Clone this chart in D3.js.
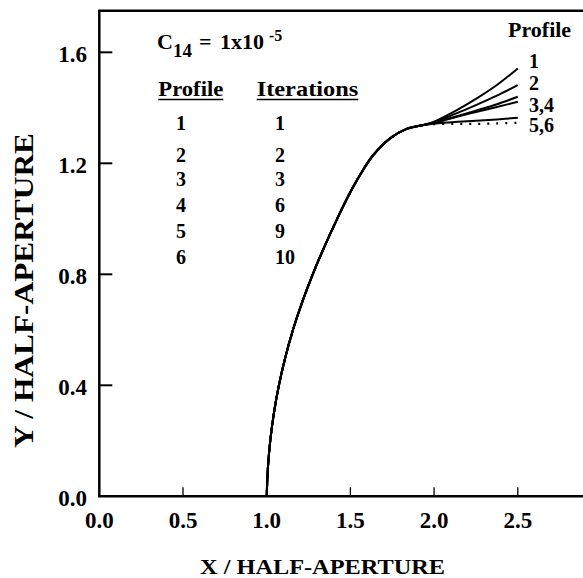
<!DOCTYPE html>
<html lang="en">
  <head>
    <meta charset="UTF-8" />
    <title>Half-aperture profiles</title>
    <style>
      body { margin: 0; background: #fff; }
      svg { display: block; }
      text { font-family: "Liberation Serif", "DejaVu Serif", serif; font-weight: bold; fill: #000; }
    </style>
  </head>
  <body>
    <div class="chart"></div>
    <script src="https://d3js.org/d3.v7.min.js"></script>
    <script>

    // shared part of every profile (X, Y)
    var baseX = [1.000, 1.007, 1.021, 1.043, 1.073, 1.111, 1.157, 1.212, 1.275, 1.345, 1.421, 1.503, 1.583, 1.637, 1.737, 1.836, 1.936];
    var baseY = [0.000, 0.100, 0.200, 0.300, 0.400, 0.500, 0.600, 0.700, 0.800, 0.900, 1.000, 1.100, 1.183, 1.230, 1.290, 1.324, 1.338];

    // where the profiles split apart
    var branchX = [2.0, 2.125, 2.25, 2.375, 2.5];
    var profile1 = [1.350, 1.388, 1.432, 1.482, 1.542];
    var profile2 = [1.348, 1.378, 1.410, 1.444, 1.482];
    var profile3 = [1.346, 1.368, 1.390, 1.413, 1.440];
    var profile4 = [1.345, 1.366, 1.385, 1.403, 1.422];
    var profile5 = [1.343, 1.349, 1.353, 1.358, 1.364];
    var profile6 = [1.341, 1.342, 1.342, 1.344, 1.346];
    var branchY = [profile1, profile2, profile3, profile4, profile5, profile6];

    var profiles = ["1", "2", "3", "4", "5", "6"];
    var iterations = ["1", "2", "3", "6", "9", "10"];
    var endLabels = ["1", "2", "3,4", "5,6"];

    var xTicks = [0.5, 1.0, 1.5, 2.0, 2.5];
    var xLabels = [0.0, 0.5, 1.0, 1.5, 2.0, 2.5];
    var yTicks = [0.4, 0.8, 1.2, 1.6];
    var yLabels = [0.0, 0.4, 0.8, 1.2, 1.6];

    var w = 583, h = 578;
    var svg = d3.select(".chart").append("svg")
        .attr("width", w)
        .attr("height", h);

    var x = d3.scaleLinear().domain([0, 3]).range([99.3, 601.5]);
    var y = d3.scaleLinear().domain([0, 1.75]).range([496.3, 10.7]);

    // frame: left axis, bottom axis, top border
    svg.append("line").attr("x1", x(0)).attr("x2", x(0)).attr("y1", y(1.75)).attr("y2", y(0))
       .attr("stroke", "#000").attr("stroke-width", 2.5);
    svg.append("line").attr("x1", x(0) - 1.2).attr("x2", w).attr("y1", y(0)).attr("y2", y(0))
       .attr("stroke", "#000").attr("stroke-width", 2.5);
    svg.append("line").attr("x1", x(0) - 1.2).attr("x2", w).attr("y1", y(1.75)).attr("y2", y(1.75))
       .attr("stroke", "#000").attr("stroke-width", 2.5);

    // x ticks point up, y ticks point right
    svg.selectAll(".xtick").data(xTicks).enter().append("line")
       .attr("x1", function(d) { return x(d); })
       .attr("x2", function(d) { return x(d); })
       .attr("y1", y(0)).attr("y2", y(0) - 9)
       .attr("stroke", "#000").attr("stroke-width", 1.3);
    svg.selectAll(".ytick").data(yTicks).enter().append("line")
       .attr("x1", x(0)).attr("x2", x(0) + 13)
       .attr("y1", function(d) { return y(d); })
       .attr("y2", function(d) { return y(d); })
       .attr("stroke", "#000").attr("stroke-width", 2);

    svg.selectAll(".xlab").data(xLabels).enter().append("text")
       .attr("x", function(d) { return x(d); })
       .attr("y", 528)
       .attr("text-anchor", "middle")
       .attr("font-size", "23px")
       .text(function(d) { return d.toFixed(1); });
    svg.selectAll(".ylab").data(yLabels).enter().append("text")
       .attr("x", 87)
       .attr("y", function(d) { return y(d) + 9.5; })
       .attr("text-anchor", "end")
       .attr("font-size", "23px")
       .text(function(d) { return d.toFixed(1); });

    svg.append("text")
       .attr("x", 322.5).attr("y", 574)
       .attr("text-anchor", "middle")
       .attr("font-size", "22px")
       .attr("textLength", 245).attr("lengthAdjust", "spacingAndGlyphs")
       .text("X / HALF-APERTURE");
    svg.append("text")
       .attr("transform", "translate(33,290.5) rotate(-90)")
       .attr("text-anchor", "middle")
       .attr("font-size", "28px")
       .attr("textLength", 315).attr("lengthAdjust", "spacingAndGlyphs")
       .text("Y / HALF-APERTURE");

    // profile curves
    var line = d3.line()
        .x(function(d) { return x(d[0]); })
        .y(function(d) { return y(d[1]); })
        .curve(d3.curveCatmullRom.alpha(0.5));

    var base = baseX.map(function(v, i) { return [v, baseY[i]]; });
    var curves = branchY.map(function(vals) {
      return base.concat(branchX.map(function(v, i) { return [v, vals[i]]; }));
    });

    svg.selectAll(".profile").data(curves).enter().append("path")
       .attr("d", line)
       .attr("fill", "none")
       .attr("stroke", "#000")
       .attr("stroke-width", function(d, i) { return i == 5 ? 2.2 : 2; })
       .attr("stroke-dasharray", function(d, i) { return i == 5 ? "2,7" : null; });

    // end labels
    svg.append("text").attr("x", 508).attr("y", 36.7).attr("font-size", "22px").text("Profile");
    svg.selectAll(".endlab").data(endLabels).enter().append("text")
       .attr("x", 529)
       .attr("y", function(d, i) { return [67.5, 90, 111.7, 132.3][i]; })
       .attr("font-size", "20px")
       .text(function(d) { return d; });

    // note block
    svg.append("text").attr("x", 157).attr("y", 49.3).attr("font-size", "22px").text("C");
    svg.append("text").attr("x", 173).attr("y", 56.7).attr("font-size", "19px").text("14");
    svg.append("text").attr("x", 199).attr("y", 49.3).attr("font-size", "22px").text("=");
    svg.append("text").attr("x", 220).attr("y", 49.3).attr("font-size", "22px").text("1x10");
    svg.append("text").attr("x", 269).attr("y", 40.7).attr("font-size", "16px").text("-5");

    var heads = [["Profile", 158.3, 65], ["Iterations", 256.7, 101.6]];
    heads.forEach(function(hd) {
      svg.append("text").attr("x", hd[1]).attr("y", 96)
         .attr("font-size", "22px")
         .attr("textLength", hd[2]).attr("lengthAdjust", "spacingAndGlyphs")
         .text(hd[0]);
      svg.append("line").attr("x1", hd[1]).attr("x2", hd[1] + hd[2])
         .attr("y1", 99.5).attr("y2", 99.5)
         .attr("stroke", "#000").attr("stroke-width", 1.5);
    });

    var rowY = [130, 162, 186, 212, 238, 264];
    svg.selectAll(".pcol").data(profiles).enter().append("text")
       .attr("x", 176).attr("y", function(d, i) { return rowY[i]; })
       .attr("font-size", "20px")
       .text(function(d) { return d; });
    svg.selectAll(".icol").data(iterations).enter().append("text")
       .attr("x", 275).attr("y", function(d, i) { return rowY[i]; })
       .attr("font-size", "20px")
       .text(function(d) { return d; });

    </script>
  </body>
</html>
